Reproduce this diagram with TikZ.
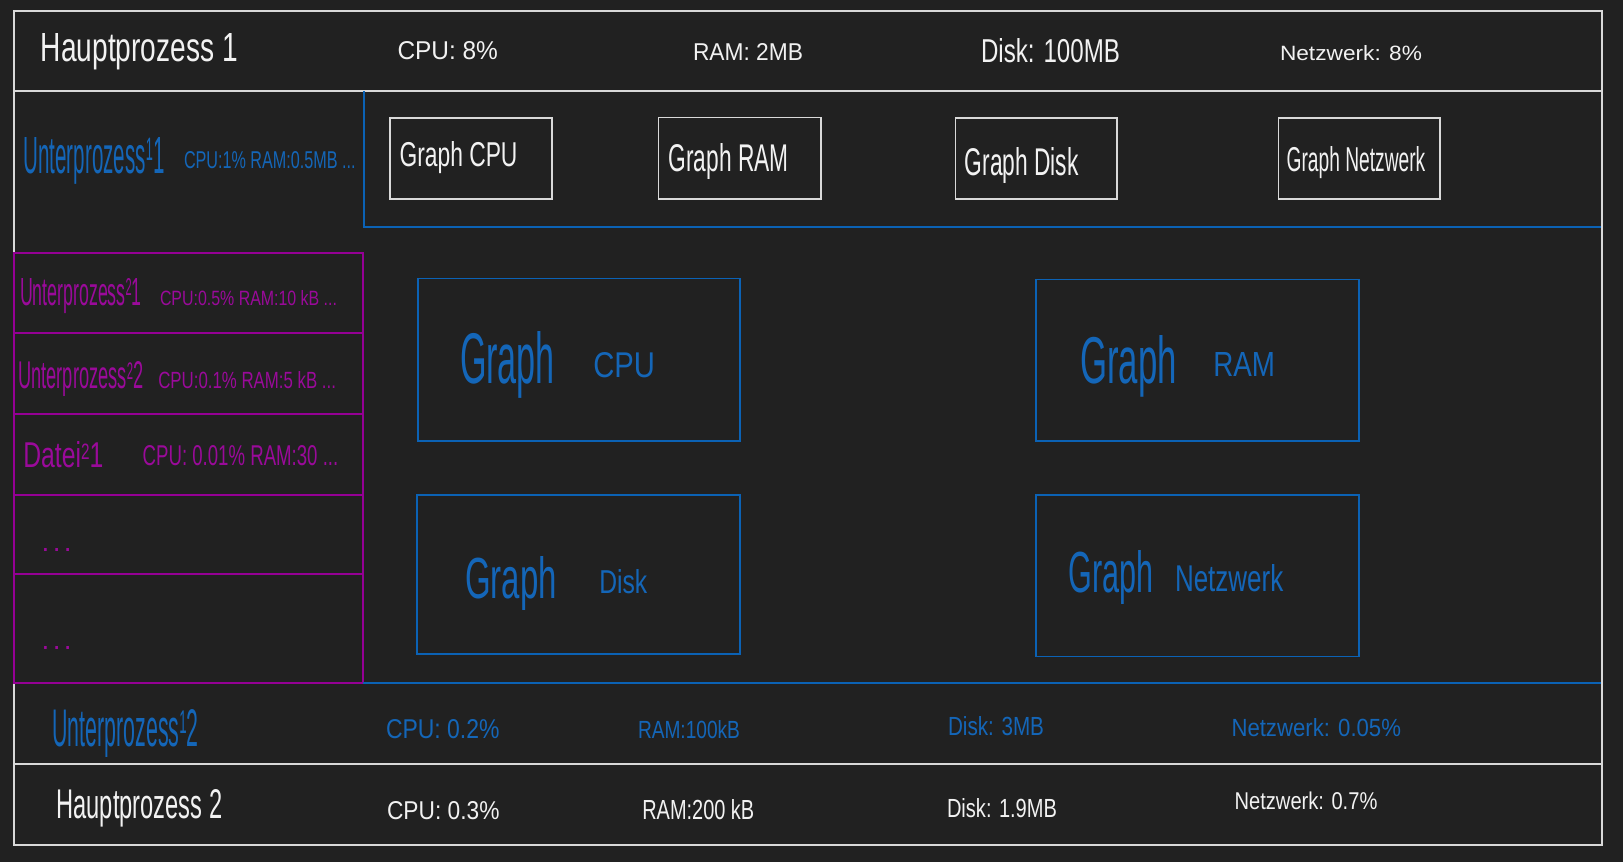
\documentclass[tikz,border=0pt]{standalone}
\usepackage{graphicx}
\usepackage{fontspec}
\setmainfont{Liberation Sans}
\definecolor{bgc}{HTML}{212121}
\definecolor{linewhite}{HTML}{D9D9D9}
\definecolor{txtwhite}{HTML}{F2F2F2}
\definecolor{lineblue}{HTML}{0B62B5}
\definecolor{txtblue}{HTML}{1466B8}
\definecolor{linemag}{HTML}{950095}
\definecolor{txtmag}{HTML}{9A0A9A}
\newdimen\pxu \pxu=0.5pt
\newcommand{\hw}[3]{\resizebox{#1\pxu}{#2\pxu}{#3}}
\newcommand{\hwd}[2]{\resizebox{#1\pxu}{!}{#2}}
\newcommand{\hsup}[1]{\raisebox{2.4pt}{\fontsize{6.2}{6.2}\selectfont #1}}
\tikzset{
  wl/.style={draw=linewhite, line width=1pt},
  bl/.style={draw=lineblue, line width=1pt},
  ml/.style={draw=linemag, line width=1pt},
  wbox/.style={draw=linewhite, line width=0.8pt},
  bbox/.style={draw=lineblue, line width=0.8pt},
  tx/.style={inner sep=0pt, outer sep=0pt, anchor=base west},
  tw/.style={tx, text=txtwhite},
  tb/.style={tx, text=txtblue},
  tm/.style={tx, text=txtmag}
}
\begin{document}
\begin{tikzpicture}[x=0.5pt,y=-0.5pt]
\fill[bgc] (0,0) rectangle (1623,862);
\useasboundingbox (0,0) rectangle (1623,862);

% frame and separators
\draw[wl] (14,10.7) rectangle (1601.5,844.5);
\draw[wl] (14,91) -- (1601.5,91);
\draw[bl] (363.5,91) -- (363.5,226.7) -- (1600.5,226.7);
\draw[ml] (14,252.7) rectangle (363.3,683.3);
\foreach \yy in {332.7,414,495,574.3} \draw[ml] (14,\yy) -- (363.3,\yy);
\draw[bl] (363.3,683.3) -- (1600.5,683.3);
\draw[wl] (14,763.5) -- (1601.5,763.5);

% small white graph boxes
\draw[wbox] (390.2,118) rectangle (551.7,198.7);
\draw[wbox] (658.3,117.5) rectangle (820.8,198.7);
\draw[wbox] (955.4,118) rectangle (1116.9,198.7);
\draw[wbox] (1278.3,118) rectangle (1439.8,198.7);

% large blue graph boxes
\draw[bbox] (418.2,278.4) rectangle (740.1,441);
\draw[bbox] (1036.1,279.5) rectangle (1359.1,441);
\draw[bbox] (417.1,494.8) rectangle (740.1,654.2);
\draw[bbox] (1036.1,494.8) rectangle (1359.1,656.3);

% header row
\node[tw] (h1) at (40.8,61.7) {\hw{197}{28}{Hauptprozess 1}};
\node[tw] (h1cpu) at (397.5,59.3) {\hw{100.5}{18}{CPU: 8\%}};
\node[tw] (h1ram) at (693,60.7) {\hw{110}{17}{RAM: 2MB}};
\node[tw] (h1disk) at (981,62.3) {\hw{139}{24}{Disk: 100MB}};
\node[tw] (h1net) at (1280,61) {\hw{142}{15}{Netzwerk: 8\%}};

% Unterprozess 1
\node[tb] (u1) at (23.5,173) {\hw{141}{36}{Unterprozess\hsup{1}1}};
\node[tb] (u1stats) at (184,168) {\hw{171.6}{17}{CPU:1\% RAM:0.5MB ...}};

% small graph labels
\node[tw] (sgcpu) at (399.5,166.7) {\hw{118}{25}{Graph CPU}};
\node[tw] (sgram) at (668.7,171.7) {\hw{120}{28}{Graph RAM}};
\node[tw] (sgdisk) at (964.7,175) {\hw{114}{28}{Graph Disk}};
\node[tw] (sgnet) at (1286.6,171.7) {\hw{138.7}{25}{Graph Netzwerk}};

% magenta list
\node[tm] (m1) at (20,305) {\hw{121.7}{27}{Unterprozess\hsup{2}1}};
\node[tm] (m1s) at (160,305) {\hw{177}{15}{CPU:0.5\% RAM:10 kB ...}};
\node[tm] (m2) at (18.3,388.3) {\hw{125}{27}{Unterprozess\hsup{2}2}};
\node[tm] (m2s) at (158.3,388.3) {\hw{177.7}{17}{CPU:0.1\% RAM:5 kB ...}};
\node[tm] (m3) at (23.3,467.7) {\hw{80}{26}{Datei\hsup{2}1}};
\node[tm] (m3s) at (142.7,465) {\hw{195.6}{20}{CPU: 0.01\% RAM:30 ...}};
\node[tm] (m4) at (41.7,551) {\hwd{30}{.\hspace{1.2pt}.\hspace{1.2pt}.}};
\node[tm] (m5) at (41.7,649) {\hwd{30}{.\hspace{1.2pt}.\hspace{1.2pt}.}};

% large graph labels
\node[tb] (gcpu1) at (460,383.3) {\hw{95}{52}{Graph}};
\node[tb] (gcpu2) at (593.3,377.3) {\hw{61.7}{25}{CPU}};
\node[tb] (gram1) at (1080,383.3) {\hw{96.7}{48}{Graph}};
\node[tb] (gram2) at (1213.3,376.7) {\hw{61.7}{24}{RAM}};
\node[tb] (gdisk1) at (465,598.3) {\hw{91.7}{42}{Graph}};
\node[tb] (gdisk2) at (599.3,593.3) {\hw{48}{24}{Disk}};
\node[tb] (gnet1) at (1068.3,592.7) {\hw{85}{42}{Graph}};
\node[tb] (gnet2) at (1175,591.7) {\hw{108.3}{27}{Netzwerk}};

% Unterprozess 2 row
\node[tb] (u2) at (52.3,746.7) {\hw{146.4}{37}{Unterprozess\hsup{1}2}};
\node[tb] (u2cpu) at (386,738.3) {\hw{113.5}{19}{CPU: 0.2\%}};
\node[tb] (u2ram) at (638,738.3) {\hw{102}{18}{RAM:100kB}};
\node[tb] (u2disk) at (948,735) {\hw{96}{19}{Disk: 3MB}};
\node[tb] (u2net) at (1231.5,736.7) {\hw{169.5}{18}{Netzwerk: 0.05\%}};

% Hauptprozess 2 row
\node[tw] (h2) at (56.5,818.3) {\hw{165.8}{29}{Hauptprozess 2}};
\node[tw] (h2cpu) at (387,819.3) {\hw{112.5}{18}{CPU: 0.3\%}};
\node[tw] (h2ram) at (642.3,819.3) {\hw{112}{20}{RAM:200 kB}};
\node[tw] (h2disk) at (947,817.3) {\hw{110}{19}{Disk: 1.9MB}};
\node[tw] (h2net) at (1234.6,809.3) {\hw{142.8}{17.6}{Netzwerk: 0.7\%}};
\end{tikzpicture}
\end{document}
